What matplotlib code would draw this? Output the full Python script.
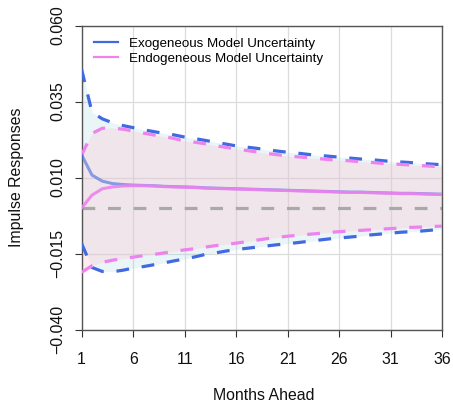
import numpy as np
import matplotlib
matplotlib.use("Agg")
import matplotlib.pyplot as plt

plt.rcParams['font.family'] = ['Liberation Sans', 'DejaVu Sans']

# months ahead
months = list(range(1, 37))

# exogeneous model uncertainty: median and bands
exo_mid = [0.0174, 0.0108, 0.0088, 0.0080, 0.0077, 0.0075, 0.0074, 0.0073, 0.0071, 0.0070,
           0.0069, 0.0068, 0.0066, 0.0065, 0.0064, 0.0063, 0.0062, 0.0061, 0.0060, 0.0059,
           0.0058, 0.0057, 0.0056, 0.0055, 0.0054, 0.0053, 0.0052, 0.0052, 0.0051, 0.0050,
           0.0049, 0.0048, 0.0048, 0.0047, 0.0046, 0.0045]
exo_hi = [0.0455, 0.0315, 0.0293, 0.0280, 0.0271, 0.0264, 0.0257, 0.0251, 0.0245, 0.0240,
          0.0233, 0.0228, 0.0222, 0.0216, 0.0210, 0.0204, 0.0200, 0.0196, 0.0191, 0.0187,
          0.0183, 0.0180, 0.0176, 0.0173, 0.0170, 0.0167, 0.0164, 0.0161, 0.0159, 0.0156,
          0.0153, 0.0151, 0.0149, 0.0146, 0.0144, 0.0142]
exo_lo = [-0.0118, -0.0196, -0.0209, -0.0210, -0.0205, -0.0198, -0.0193, -0.0187, -0.0181, -0.0174,
          -0.0168, -0.0161, -0.0153, -0.0148, -0.0142, -0.0137, -0.0133, -0.0129, -0.0125, -0.0121,
          -0.0118, -0.0114, -0.0110, -0.0106, -0.0102, -0.0099, -0.0096, -0.0093, -0.0089, -0.0086,
          -0.0083, -0.0080, -0.0078, -0.0076, -0.0073, -0.0071]

# endogeneous model uncertainty: median and bands
endo_mid = [0.0000, 0.0042, 0.0063, 0.0069, 0.0072, 0.0073, 0.0073, 0.0072, 0.0070, 0.0069,
            0.0068, 0.0067, 0.0065, 0.0064, 0.0063, 0.0062, 0.0061, 0.0060, 0.0059, 0.0058,
            0.0057, 0.0056, 0.0055, 0.0054, 0.0053, 0.0052, 0.0051, 0.0051, 0.0050, 0.0049,
            0.0048, 0.0047, 0.0047, 0.0046, 0.0045, 0.0044]
endo_hi = [0.0174, 0.0245, 0.0262, 0.0263, 0.0259, 0.0253, 0.0246, 0.0240, 0.0235, 0.0228,
           0.0220, 0.0216, 0.0211, 0.0205, 0.0199, 0.0194, 0.0189, 0.0184, 0.0179, 0.0175,
           0.0171, 0.0168, 0.0165, 0.0162, 0.0159, 0.0157, 0.0155, 0.0152, 0.0150, 0.0147,
           0.0145, 0.0143, 0.0141, 0.0139, 0.0137, 0.0135]
endo_lo = [-0.0212, -0.0190, -0.0179, -0.0172, -0.0167, -0.0162, -0.0157, -0.0153, -0.0148, -0.0143,
           -0.0138, -0.0134, -0.0129, -0.0124, -0.0120, -0.0116, -0.0111, -0.0106, -0.0101, -0.0097,
           -0.0093, -0.0090, -0.0087, -0.0084, -0.0081, -0.0078, -0.0076, -0.0074, -0.0072, -0.0070,
           -0.0068, -0.0066, -0.0064, -0.0063, -0.0061, -0.0060]

xticks = [1, 6, 11, 16, 21, 26, 31, 36]
yticks = [-0.040, -0.015, 0.010, 0.035, 0.060]
ytick_labels = ['\u22120.040', '\u22120.015', '0.010', '0.035', '0.060']

BLUE = '#4169E1'
PINK = '#EE82EE'

fig = plt.figure(figsize=(4.53, 4.05), dpi=100)
ax = fig.add_axes([0.1803, 0.1864, 0.7961, 0.7506])

ax.set_xlim(1, 36)
ax.set_ylim(-0.04, 0.06)

# grid
for xt in xticks:
    ax.axvline(xt, color='#DCDCDC', lw=0.9, zorder=0)
for yt in yticks:
    ax.axhline(yt, color='#DCDCDC', lw=0.9, zorder=0)

# bands
ax.fill_between(months, exo_lo, exo_hi, color='#ADD8E6', alpha=0.25, lw=0, zorder=1)
ax.fill_between(months, endo_lo, endo_hi, color='#FFC0CB', alpha=0.3, lw=0, zorder=1)

# zero line
zl, = ax.plot([1, 36], [0, 0], color='#A9A9A9', lw=2.3, zorder=2)
zl.set_dashes((4, 4))

# band edges
for y, c in [(exo_hi, BLUE), (exo_lo, BLUE), (endo_hi, PINK), (endo_lo, PINK)]:
    ln, = ax.plot(months, y, color=c, lw=2.3, zorder=3)
    ln.set_dashes((4, 4))

# medians
ax.plot(months, exo_mid, color=BLUE, lw=2.2, alpha=0.6, zorder=4)
ax.plot(months, endo_mid, color=PINK, lw=2.2, alpha=0.9, zorder=5)

# legend
ax.plot([], [], color=BLUE, lw=1.6, label='Exogeneous Model Uncertainty')
ax.plot([], [], color=PINK, lw=1.6, label='Endogeneous Model Uncertainty')
handles, labels = ax.get_legend_handles_labels()
ax.legend(handles[-2:], labels[-2:], loc='upper left', bbox_to_anchor=(0.005, 0.995),
          frameon=False, fontsize=9.6, handlelength=1.8, handletextpad=0.85,
          labelspacing=0.2, borderaxespad=0.4)

ax.set_xticks(xticks)
ax.set_xticklabels([str(x) for x in xticks])
ax.set_yticks(yticks)
ax.set_yticklabels(ytick_labels, rotation=90, va='center')
ax.tick_params(axis='both', direction='out', length=5, width=0.8, color='#333333',
               labelsize=11.4, labelcolor='#111111')
ax.tick_params(axis='x', pad=11)
ax.tick_params(axis='y', pad=7)

for sp in ax.spines.values():
    sp.set_color('#555555')
    sp.set_linewidth(1.0)

fig.text(0.5818, 1 - 395 / 405, 'Months Ahead', ha='center', va='center', fontsize=11.4, color='#111111')
fig.text(17 / 453, 1 - 177 / 405, 'Impulse Responses', ha='center', va='center', rotation=90,
         fontsize=11.4, color='#111111')

fig.savefig('out.png', dpi=100)
